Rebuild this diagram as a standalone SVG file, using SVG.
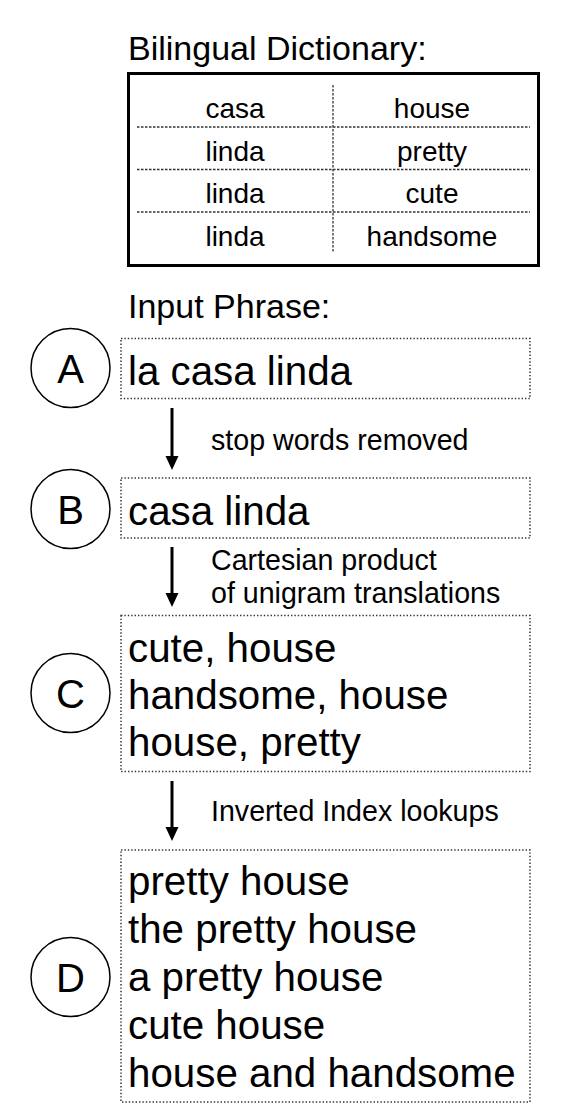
<svg xmlns="http://www.w3.org/2000/svg" width="572" height="1109" viewBox="0 0 572 1109">
<defs>
<style>
text{font-family:"Liberation Sans",Arial,sans-serif;fill:#000}
.title{font-size:34px}
.cell{font-size:28px;text-anchor:middle}
.main{font-size:40.3px}
.step{font-size:28.6px}
.letter{font-size:40px;text-anchor:middle}
.box{fill:none;stroke:#333;stroke-width:1.5;stroke-dasharray:1.4 2}
.grid{stroke:#333;stroke-width:1.3;stroke-dasharray:2.5 1.5;fill:none}
.circ{fill:none;stroke:#000;stroke-width:1.5}
.arrow{stroke:#000;stroke-width:3;fill:none}
</style>
</defs>
<g id="dictionary">
<text class="title" x="128" y="60">Bilingual Dictionary:</text>
<rect x="128.5" y="73.5" width="410" height="192" fill="none" stroke="#000" stroke-width="3"/>
<line class="grid" x1="333" y1="85" x2="333" y2="253"/>
<line class="grid" x1="137" y1="127" x2="530" y2="127"/>
<line class="grid" x1="137" y1="169.5" x2="530" y2="169.5"/>
<line class="grid" x1="137" y1="212" x2="530" y2="212"/>
<text class="cell" x="235" y="118">casa</text>
<text class="cell" x="432" y="118">house</text>
<text class="cell" x="235" y="161">linda</text>
<text class="cell" x="432" y="161">pretty</text>
<text class="cell" x="235" y="203">linda</text>
<text class="cell" x="432" y="203">cute</text>
<text class="cell" x="235" y="246">linda</text>
<text class="cell" x="432" y="246">handsome</text>
</g>
<text class="title" x="128" y="318">Input Phrase:</text>
<g id="nodeA">
<circle class="circ" cx="70.5" cy="368" r="39.5"/>
<text class="letter" x="70.5" y="382.5">A</text>
<rect class="box" x="121" y="338.5" width="409" height="60"/>
<text class="main" x="128" y="385">la casa linda</text>
</g>
<g id="nodeB">
<circle class="circ" cx="70.5" cy="509" r="39.5"/>
<text class="letter" x="70.5" y="523.5">B</text>
<rect class="box" x="121" y="478" width="409" height="60"/>
<text class="main" x="128" y="525">casa linda</text>
</g>
<g id="nodeC">
<circle class="circ" cx="70.5" cy="693" r="39.5"/>
<text class="letter" x="70.5" y="707.5">C</text>
<rect class="box" x="121" y="615.5" width="409" height="156"/>
<text class="main" x="128" y="662">cute, house</text>
<text class="main" x="128" y="709">handsome, house</text>
<text class="main" x="128" y="756">house, pretty</text>
</g>
<g id="nodeD">
<circle class="circ" cx="70.5" cy="977" r="39.5"/>
<text class="letter" x="70.5" y="991.5">D</text>
<rect class="box" x="121" y="850" width="409" height="252"/>
<text class="main" x="128" y="895">pretty house</text>
<text class="main" x="128" y="943">the pretty house</text>
<text class="main" x="128" y="991">a pretty house</text>
<text class="main" x="128" y="1039">cute house</text>
<text class="main" x="128" y="1087">house and handsome</text>
</g>
<g id="connectors">
<line class="arrow" x1="172" y1="408" x2="172" y2="458"/>
<polygon points="165.5,456 178.5,456 172,470"/>
<line class="arrow" x1="172" y1="547" x2="172" y2="595"/>
<polygon points="165.5,593 178.5,593 172,607"/>
<line class="arrow" x1="172" y1="781" x2="172" y2="829"/>
<polygon points="165.5,827 178.5,827 172,841"/>
<text class="step" x="211" y="450">stop words removed</text>
<text class="step" x="211" y="570">Cartesian product</text>
<text class="step" x="211" y="603">of unigram translations</text>
<text class="step" x="211" y="821">Inverted Index lookups</text>
</g>
</svg>
